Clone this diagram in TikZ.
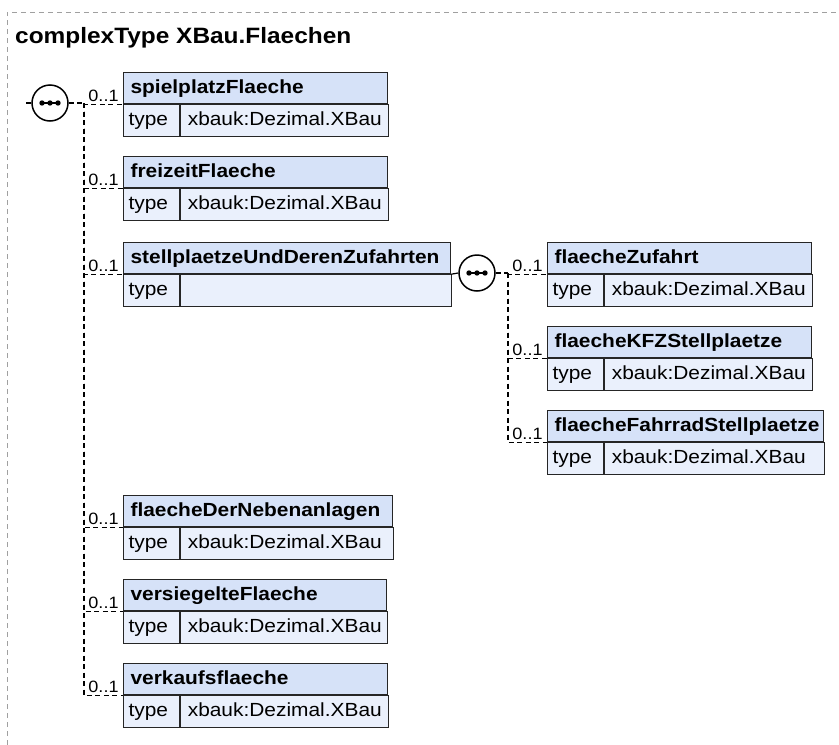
\documentclass[tikz,border=0pt]{standalone}
\usepackage{fontspec}
\newfontfamily\diagfont{Liberation Sans}[FakeStretch=1.1]
\usetikzlibrary{calc}
\definecolor{headblue}{RGB}{214,226,248}
\definecolor{rowblue}{RGB}{234,240,252}
\definecolor{framegray}{RGB}{160,160,160}
\tikzstyle{head} = [rectangle, draw=black!85, line width=1.2pt, fill=headblue,
anchor=north west, inner xsep=7pt, inner ysep=0pt, minimum height=31pt, align=left,
text height=14pt, text depth=4pt, font=\diagfont\bfseries\fontsize{19}{22}\selectfont]
\tikzstyle{typekey} = [rectangle, draw=black!85, line width=1.2pt, fill=rowblue,
anchor=north west, inner xsep=5pt, inner ysep=0pt, text width=46pt, minimum height=32pt,
align=left, text height=14pt, text depth=4pt, font=\diagfont\fontsize{19}{22}\selectfont]
\tikzstyle{typeval} = [typekey, anchor=north west, inner xsep=7pt]
\tikzstyle{card} = [above, inner sep=1.5pt, font=\diagfont\fontsize{16.4}{18}\selectfont]
\tikzstyle{conn} = [draw, line width=1.2pt, dash pattern=on 5pt off 3.5pt]
\tikzstyle{line} = [draw, line width=1.2pt]
\tikzstyle{seq} = [circle, draw, line width=1.5pt, fill=white, minimum size=36pt, inner sep=0pt]
\tikzstyle{frame} = [draw=framegray, line width=1pt, dash pattern=on 5pt off 4pt]

\begin{document}
\begin{tikzpicture}[x=1pt, y=-1pt]
	\useasboundingbox (0,0) rectangle (839,745);
	% outer frame and title
	\draw [frame] (7,745) -- (7,12) -- (839,12);
	\node [anchor=base west, inner sep=0pt, font=\diagfont\bfseries\fontsize{22.2}{26}\selectfont] (title) at (15,43) {complexType XBau.Flaechen};
	
	% Place nodes
	\node [head, text width=250pt] (spiel) at (123,72) {spielplatzFlaeche};
	\node [typekey] (spielK) at (spiel.south west) {type};
	\node [typeval, text width=194pt] (spielV) at (spielK.north east) {xbauk:Dezimal.XBau};
	
	\node [head, text width=250pt] (frei) at (123,156) {freizeitFlaeche};
	\node [typekey] (freiK) at (frei.south west) {type};
	\node [typeval, text width=194pt] (freiV) at (freiK.north east) {xbauk:Dezimal.XBau};
	
	\node [head, text width=313pt] (stell) at (123,242) {stellplaetzeUndDerenZufahrten};
	\node [typekey] (stellK) at (stell.south west) {type};
	\node [typeval, text width=257pt] (stellV) at (stellK.north east) {};
	
	\node [head, text width=255pt] (neben) at (123,495) {flaecheDerNebenanlagen};
	\node [typekey] (nebenK) at (neben.south west) {type};
	\node [typeval, text width=199pt] (nebenV) at (nebenK.north east) {xbauk:Dezimal.XBau};
	
	\node [head, text width=249pt] (versieg) at (123,579) {versiegelteFlaeche};
	\node [typekey] (versiegK) at (versieg.south west) {type};
	\node [typeval, text width=193pt] (versiegV) at (versiegK.north east) {xbauk:Dezimal.XBau};
	
	\node [head, text width=250pt] (verkauf) at (123,663) {verkaufsflaeche};
	\node [typekey] (verkaufK) at (verkauf.south west) {type};
	\node [typeval, text width=194pt] (verkaufV) at (verkaufK.north east) {xbauk:Dezimal.XBau};
	
	\node [head, text width=250pt] (zufahrt) at (547,242) {flaecheZufahrt};
	\node [typekey] (zufahrtK) at (zufahrt.south west) {type};
	\node [typeval, text width=194pt] (zufahrtV) at (zufahrtK.north east) {xbauk:Dezimal.XBau};
	
	\node [head, text width=250pt] (kfz) at (547,326) {flaecheKFZStellplaetze};
	\node [typekey] (kfzK) at (kfz.south west) {type};
	\node [typeval, text width=194pt] (kfzV) at (kfzK.north east) {xbauk:Dezimal.XBau};
	
	\node [head, text width=262pt] (rad) at (547,410) {flaecheFahrradStellplaetze};
	\node [typekey] (radK) at (rad.south west) {type};
	\node [typeval, text width=206pt] (radV) at (radK.north east) {xbauk:Dezimal.XBau};
	
	% sequence symbols
	\node [seq] (seqA) at (50,103) {};
	\node [seq] (seqB) at (477,273) {};
	\path [line] (seqA.center) +(-9,0) -- +(9,0);
	\path [line] (seqB.center) +(-9,0) -- +(9,0);
	\fill (seqA.center) circle (2.7pt) +(-8,0) circle (2.7pt) +(8,0) circle (2.7pt);
	\fill (seqB.center) circle (2.7pt) +(-8,0) circle (2.7pt) +(8,0) circle (2.7pt);
	\coordinate (inA) at (26,103);
	\coordinate (busA) at (84,103);
	\coordinate (busB) at (508,273);
	%
	\path [conn] (inA) -- (seqA.west);
	\path [conn] (seqA.east) -- (busA);
	\path [conn] (busA) |- node[card, pos=0.75] (mA1) {0..1} (spiel.south west);
	\path [conn] (busA) |- node[card, pos=0.75] (mA2) {0..1} (frei.south west);
	\path [conn] (busA) |- node[card, pos=0.75] (mA3) {0..1} (stell.south west);
	\path [conn] (busA) |- node[card, pos=0.75] (mA4) {0..1} (neben.south west);
	\path [conn] (busA) |- node[card, pos=0.75] (mA5) {0..1} (versieg.south west);
	\path [conn] (busA) |- node[card, pos=0.75] (mA6) {0..1} (verkauf.south west);
	%
	\path [line] (stell.south east) -- (seqB.west);
	\path [conn] (seqB.east) -- (busB);
	\path [conn] (busB) |- node[card, pos=0.75] (mB1) {0..1} (zufahrt.south west);
	\path [conn] (busB) |- node[card, pos=0.75] (mB2) {0..1} (kfz.south west);
	\path [conn] (busB) |- node[card, pos=0.75] (mB3) {0..1} (rad.south west);
\end{tikzpicture}
\end{document}
